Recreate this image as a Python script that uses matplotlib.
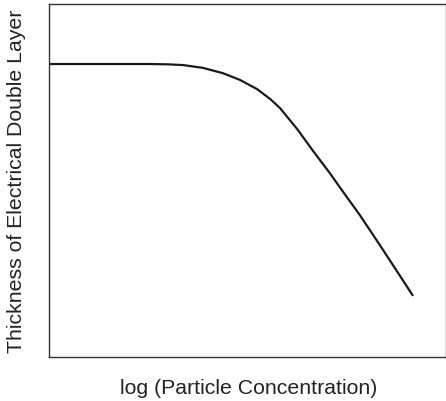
import matplotlib
matplotlib.use("Agg")
import matplotlib.pyplot as plt

# Curve (arbitrary units, axes span 0..10)
log_conc = [0.0, 2.54, 3.0, 3.38, 3.88, 4.38, 4.81, 5.24, 5.57, 5.82, 6.25, 6.65, 7.08, 7.33, 7.83, 8.34, 8.84, 9.17]
thickness = [8.30, 8.30, 8.29, 8.27, 8.19, 8.04, 7.85, 7.59, 7.31, 7.05, 6.46, 5.84, 5.20, 4.80, 4.02, 3.16, 2.30, 1.73]

x_label = "log (Particle Concentration)"
y_label = "Thickness of Electrical Double Layer"

plt.rcParams['font.family'] = ['Liberation Sans', 'DejaVu Sans']

fig = plt.figure(figsize=(4.46, 4.02), dpi=100)
ax = fig.add_axes([49/446, 1 - 358/402, (446 - 49)/446, (358 - 5)/402])
ax.plot(log_conc, thickness, color='#1a1a1a', lw=1.6, solid_capstyle='butt',
        solid_joinstyle='round')
ax.set_xlim(0, 10)
ax.set_ylim(0, 10)
ax.set_xticks([])
ax.set_yticks([])
for s in ax.spines.values():
    s.set_color('#333333')
    s.set_linewidth(1.0)
ax.set_xlabel(x_label, fontsize=15.3, color='#222222', va='center')
ax.xaxis.set_label_coords(0.504, -0.085)
ax.set_ylabel(y_label, fontsize=15.3, color='#222222', va='center')
ax.yaxis.set_label_coords(-0.081, 0.501)
fig.savefig("out.png", dpi=100)
